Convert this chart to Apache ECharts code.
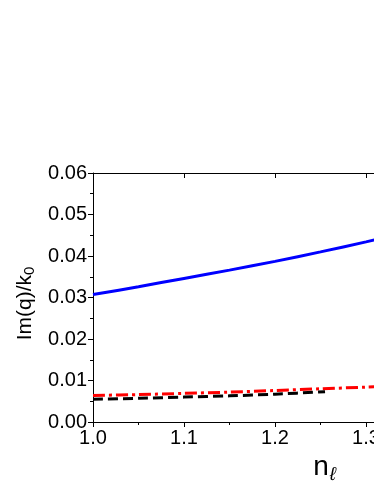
<!DOCTYPE html>
<html><head><meta charset="utf-8">
<script src="https://cdn.jsdelivr.net/npm/echarts@6/dist/echarts.min.js"></script>
<style>html,body{margin:0;padding:0;background:#fff}#c{width:374px;height:484px}</style>
</head><body><div id="c"></div>
<script>
const blueX = [1.0, 1.05, 1.1, 1.15, 1.2, 1.25, 1.3, 1.35];
const blueY = [0.0307, 0.0326, 0.0346, 0.0366, 0.0387, 0.0410, 0.0434, 0.0459];
const redX = [1.0, 1.05, 1.1, 1.15, 1.2, 1.25, 1.3, 1.35];
const redY = [0.0064, 0.0066, 0.0069, 0.0072, 0.0076, 0.0080, 0.0084, 0.0088];
const blackX = [1.0, 1.05, 1.1, 1.15, 1.2, 1.255];
const blackY = [0.0055, 0.0057, 0.0060, 0.0063, 0.0067, 0.0073];
const xTicks = [1.0, 1.1, 1.2, 1.3, 1.4, 1.5];
const yTicks = [0.00, 0.01, 0.02, 0.03, 0.04, 0.05, 0.06];

const zip = (xs, ys) => xs.map((x, i) => [x, ys[i]]);
const font = 'Liberation Sans, Arial, sans-serif';
const chart = echarts.init(document.getElementById('c'));
chart.setOption({
  animation: false,
  grid: {left: 93, top: 173, width: 455, height: 249, containLabel: false, outerBoundsMode: 'none'},
  xAxis: [{
    type: 'value', min: xTicks[0], max: xTicks[xTicks.length - 1], interval: 0.1,
    position: 'bottom',
    name: 'n{sub|ℓ}', nameLocation: 'middle', nameGap: 23,
    nameTextStyle: {fontFamily: font, fontSize: 28, color: '#000', padding: [0, 0, 0, 8],
      rich: {sub: {fontFamily: font, fontSize: 19, fontStyle: 'italic', color: '#000', verticalAlign: 'bottom', padding: [16, 0, 0, 1]}}},
    axisLine: {lineStyle: {color: '#000', width: 1}},
    axisTick: {show: true, inside: false, length: 5, lineStyle: {color: '#000'}},
    minorTick: {show: true, splitNumber: 2, length: 3, lineStyle: {color: '#000'}},
    axisLabel: {fontFamily: font, fontSize: 20, color: '#000', margin: 6,
      formatter: v => v.toFixed(1)},
    splitLine: {show: false}
  }, {
    type: 'value', min: xTicks[0], max: xTicks[xTicks.length - 1], interval: 0.1,
    position: 'top',
    axisLine: {show: true, lineStyle: {color: '#000', width: 1}},
    axisTick: {show: true, inside: true, length: 5, lineStyle: {color: '#000'}},
    minorTick: {show: false},
    axisLabel: {show: false},
    splitLine: {show: false}
  }],
  yAxis: {
    type: 'value', min: yTicks[0], max: yTicks[yTicks.length - 1], interval: 0.01,
    name: 'Im(q)/k{sub|0}', nameLocation: 'middle', nameGap: 52, nameRotate: 90,
    nameTextStyle: {fontFamily: font, fontSize: 21, color: '#000', padding: [0, 12, 0, 0],
      rich: {sub: {fontFamily: font, fontSize: 15, color: '#000', verticalAlign: 'bottom', padding: [8, 0, 0, 0]}}},
    axisLine: {show: true, lineStyle: {color: '#000', width: 1}},
    axisTick: {show: true, inside: false, length: 5, lineStyle: {color: '#000'}},
    minorTick: {show: true, splitNumber: 2, length: 3, lineStyle: {color: '#000'}},
    axisLabel: {fontFamily: font, fontSize: 20, color: '#000', margin: 6,
      formatter: v => v.toFixed(2)},
    splitLine: {show: false}
  },
  series: [
    {type: 'line', data: zip(blueX, blueY), showSymbol: false, smooth: 0.3,
      lineStyle: {color: '#0000ff', width: 3}},
    {type: 'line', data: zip(redX, redY), showSymbol: false, smooth: 0.3,
      lineStyle: {color: '#ff0000', width: 3, type: [12, 4, 3, 4]}},
    {type: 'line', data: zip(blackX, blackY), showSymbol: false, smooth: 0.3,
      lineStyle: {color: '#000000', width: 3, type: [10, 5]}}
  ]
});
</script></body></html>
